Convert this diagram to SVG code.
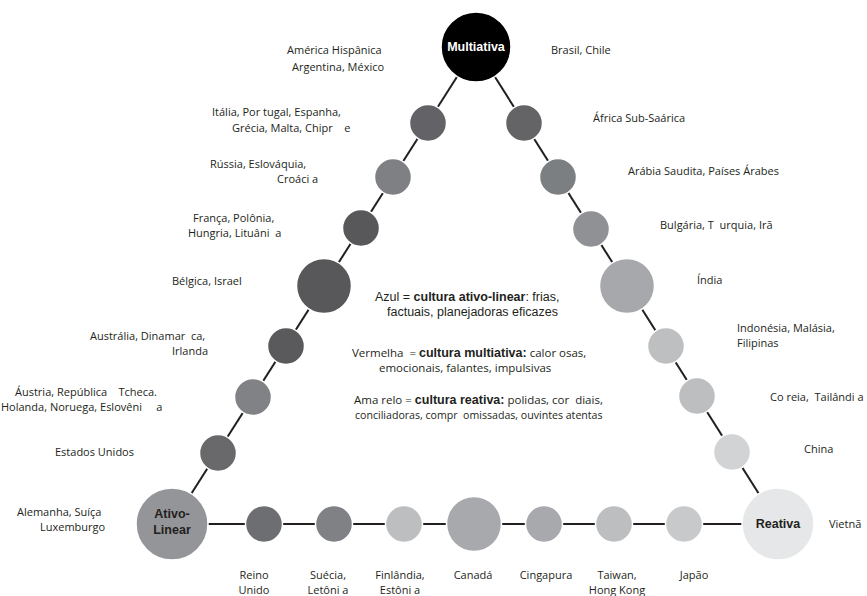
<svg xmlns="http://www.w3.org/2000/svg" width="867" height="596" viewBox="0 0 867 596">
<style>
  .lbl { font-family: "Open Sans", "Noto Sans", sans-serif; font-size: 11px; fill: #231f20; white-space: pre; }
  .ctr { font-family: "Liberation Sans", Arial, sans-serif; font-size: 12.5px; fill: #231f20; white-space: pre; }
  .hum { font-family: "Open Sans", "Noto Sans", sans-serif; font-size: 11.5px; }
  .b { font-weight: bold; font-family: "Liberation Sans", Arial, sans-serif; font-size: 12.5px; }
  .node { stroke: #ffffff; stroke-width: 1.5; }
  .nt { font-family: "Liberation Sans", Arial, sans-serif; font-size: 12.5px; font-weight: bold; text-anchor: middle; }
  .mid { text-anchor: middle; }
  .conn { stroke: #231f20; stroke-width: 2; fill: none; }
</style>
<rect width="867" height="596" fill="#ffffff"/>
<g id="connectors">
  <line class="conn" x1="476" y1="47" x2="172" y2="524"/>
  <line class="conn" x1="476" y1="47" x2="778" y2="524"/>
  <line class="conn" x1="172" y1="524" x2="778" y2="524"/>
</g>
<g id="multiativa"><circle class="node" cx="476" cy="47" r="35" fill="#000000"/><text class="nt" x="476" y="51" fill="#ffffff">Multiativa</text></g>
<g id="ativo-linear"><circle class="node" cx="172" cy="524" r="36" fill="#939598"/><text class="nt" x="172" y="518" fill="#231f20">Ativo-</text><text class="nt" x="172" y="534" fill="#231f20">Linear</text></g>
<g id="reativa"><circle class="node" cx="778" cy="524" r="36" fill="#e6e7e8"/><text class="nt" x="778" y="528" fill="#231f20">Reativa</text></g>

<g id="italia"><circle class="node" cx="428" cy="123" r="18.5" fill="#636266"/></g>
<g id="russia"><circle class="node" cx="393" cy="177" r="18.5" fill="#7e8083"/></g>
<g id="franca"><circle class="node" cx="361" cy="228" r="18.5" fill="#58585b"/></g>
<g id="belgica"><circle class="node" cx="324" cy="286" r="27.5" fill="#58585a"/></g>
<g id="australia"><circle class="node" cx="286" cy="346" r="18.5" fill="#5a5a5c"/></g>
<g id="austria"><circle class="node" cx="253" cy="397" r="18.5" fill="#808285"/></g>
<g id="eua"><circle class="node" cx="218" cy="453" r="18.5" fill="#69696c"/></g>

<g id="africa"><circle class="node" cx="524" cy="123" r="18.5" fill="#646467"/></g>
<g id="arabia"><circle class="node" cx="558" cy="177" r="18.5" fill="#7c7f81"/></g>
<g id="bulgaria"><circle class="node" cx="591" cy="229" r="18.5" fill="#8f9194"/></g>
<g id="india"><circle class="node" cx="627" cy="286" r="27.5" fill="#a6a8ab"/></g>
<g id="indonesia"><circle class="node" cx="666" cy="346" r="18.5" fill="#bdbfc1"/></g>
<g id="coreia"><circle class="node" cx="697" cy="396" r="18.5" fill="#bcbec0"/></g>
<g id="china"><circle class="node" cx="732" cy="452" r="18.5" fill="#d1d3d4"/></g>

<g id="reino-unido"><circle class="node" cx="264" cy="524" r="18.5" fill="#6d6e71"/></g>
<g id="suecia"><circle class="node" cx="334" cy="524" r="18.5" fill="#7f8184"/></g>
<g id="finlandia"><circle class="node" cx="404" cy="524" r="18.5" fill="#bcbec0"/></g>
<g id="canada"><circle class="node" cx="474" cy="524" r="27.5" fill="#a7a9ac"/></g>
<g id="cingapura"><circle class="node" cx="544" cy="524" r="18.5" fill="#a7a9ac"/></g>
<g id="taiwan"><circle class="node" cx="614" cy="524" r="18.5" fill="#bcbec0"/></g>
<g id="japao"><circle class="node" cx="684" cy="524" r="18.5" fill="#c8c9cb"/></g>

<g id="labels-left">
  <text class="lbl" x="287" y="54">América Hispânica</text>
  <text class="lbl" x="292" y="71">Argentina, México</text>
  <text class="lbl" x="212" y="116">Itália, Por tugal, Espanha,</text>
  <text class="lbl" x="232" y="132">Grécia, Malta, Chipr    e</text>
  <text class="lbl" x="210" y="168">Rússia, Eslováquia,</text>
  <text class="lbl" x="277" y="183">Croáci a</text>
  <text class="lbl" x="193" y="222">França, Polônia,</text>
  <text class="lbl" x="188" y="237">Hungria, Lituâni  a</text>
  <text class="lbl" x="172" y="285">Bélgica, Israel</text>
  <text class="lbl" x="90" y="340">Austrália, Dinamar  ca,</text>
  <text class="lbl" x="172" y="355">Irlanda</text>
  <text class="lbl" x="15" y="396">Áustria, República    Tcheca.</text>
  <text class="lbl" x="1" y="411">Holanda, Noruega, Eslovêni     a</text>
  <text class="lbl" x="55" y="456">Estados Unidos</text>
  <text class="lbl" x="17" y="516">Alemanha, Suíça</text>
  <text class="lbl" x="40" y="531">Luxemburgo</text>
</g>
<g id="labels-right">
  <text class="lbl" x="551" y="54">Brasil, Chile</text>
  <text class="lbl" x="593" y="122">África Sub-Saárica</text>
  <text class="lbl" x="628" y="175">Arábia Saudita, Países Árabes</text>
  <text class="lbl" x="660" y="229">Bulgária, T  urquia, Irã</text>
  <text class="lbl" x="697" y="284">Índia</text>
  <text class="lbl" x="737" y="332">Indonésia, Malásia,</text>
  <text class="lbl" x="737" y="347">Filipinas</text>
  <text class="lbl" x="770" y="401">Co reia,  Tailândi a</text>
  <text class="lbl" x="804" y="453">China</text>
  <text class="lbl" x="829" y="528">Vietnã</text>
</g>
<g id="labels-bottom">
  <text class="lbl mid" x="254" y="579">Reino</text>
  <text class="lbl mid" x="254" y="594">Unido</text>
  <text class="lbl mid" x="328" y="579">Suécia,</text>
  <text class="lbl mid" x="328" y="594">Letôni a</text>
  <text class="lbl mid" x="400" y="579">Finlândia,</text>
  <text class="lbl mid" x="400" y="594">Estôni a</text>
  <text class="lbl mid" x="473" y="579">Canadá</text>
  <text class="lbl mid" x="546" y="579">Cingapura</text>
  <text class="lbl mid" x="617" y="579">Taiwan,</text>
  <text class="lbl mid" x="617" y="594">Hong Kong</text>
  <text class="lbl mid" x="694" y="579">Japão</text>
</g>
<g id="legend">
  <text class="ctr" x="375" y="301">Azul = <tspan class="b">cultura ativo-linear</tspan>: frias,</text>
  <text class="ctr" x="387" y="316">factuais, planejadoras eficazes</text>
  <text class="ctr" x="352" y="357"><tspan class="hum">Vermelha  = </tspan><tspan class="b">cultura multiativa:</tspan><tspan class="hum"> calor osas,</tspan></text>
  <text class="ctr" x="379" y="372"><tspan class="hum">emocionais, falantes, impulsivas</tspan></text>
  <text class="ctr" x="354" y="404"><tspan class="hum">Ama relo = </tspan><tspan class="b">cultura reativa:</tspan><tspan class="hum"> polidas, cor  diais,</tspan></text>
  <text class="ctr" x="355" y="419"><tspan class="hum" style="font-size:10.6px">conciliadoras, compr  omissadas, ouvintes atentas</tspan></text>
</g>
</svg>
